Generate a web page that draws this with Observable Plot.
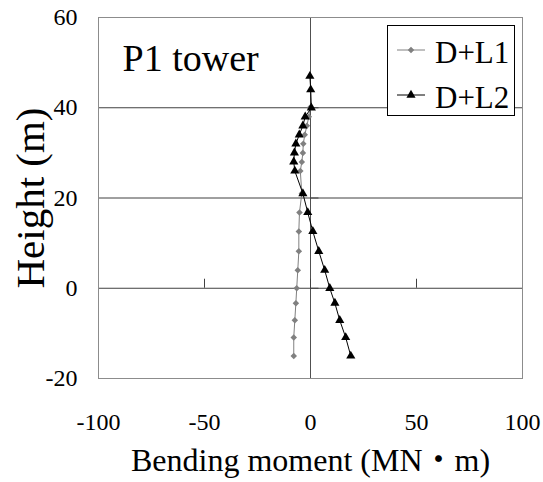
<!DOCTYPE html>
<html>
<head>
<meta charset="utf-8">
<script src="https://cdn.jsdelivr.net/npm/d3@7"></script>
<script src="https://cdn.jsdelivr.net/npm/@observablehq/plot@0.6"></script>
<style>
  html, body { margin: 0; padding: 0; background: #fff; }
  #wrap { position: relative; width: 543px; height: 482px; }
  #legend { position: absolute; left: 387px; top: 25px; width: 128px; height: 91px;
            border: 1px solid #000; background: #fff; box-sizing: border-box; }
</style>
</head>
<body>
<div id="wrap"><div id="chart"></div><div id="legend"></div></div>
<script>
// Heights (m) of the points
const heightsL1 = [40, 38, 36, 34, 32, 30, 28, 26, 21, 16.8, 12.6, 8.2, 4, 0, -3.3, -7.1, -10.9, -15];
const momentL1  = [-0.3, -0.8, -1.7, -2.7, -3.4, -3.6, -4.1, -4.8, -4.1, -5.2, -5.5, -5.5, -6.0, -6.5, -6.9, -7.4, -7.9, -7.9];
const heightsL2 = [47, 44, 40, 38, 36, 34, 32, 30, 28, 26, 21, 16.8, 12.6, 8.2, 4, 0, -3.3, -7.1, -10.9, -15];
const momentL2  = [-0.3, 0.1, 0.4, -2.5, -3.6, -5.3, -6.9, -7.6, -7.9, -7.4, -3.6, -1.3, 1.1, 3.9, 6.7, 9.1, 11.5, 13.8, 16.6, 19.0];
const xTicks = [-100, -50, 0, 50, 100];
const yTicks = [-20, 0, 20, 40, 60];
const gridY = [0, 20, 40];
const seriesNames = ["D+L1", "D+L2"];
const annotation = "P1 tower";
const xTitle = "Bending moment (MN・m)";
const yTitle = "Height (m)";

const L1 = heightsL1.map((h, i) => ({h, m: momentL1[i]}));
const L2 = heightsL2.map((h, i) => ({h, m: momentL2[i]}));

const diamond = {
  draw(ctx, size) {
    const d = Math.sqrt(size / 2);
    ctx.moveTo(0, -d); ctx.lineTo(d, 0); ctx.lineTo(0, d); ctx.lineTo(-d, 0); ctx.closePath();
  }
};

const serif = "'Liberation Serif', serif, 'Noto Sans CJK JP'";

const chart = Plot.plot({
  width: 543,
  height: 482,
  marginLeft: 98,
  marginRight: 21,
  marginTop: 17,
  marginBottom: 104,
  style: {fontFamily: serif, background: "#fff", color: "#000"},
  x: {domain: [-100, 100]},
  y: {domain: [-20, 60]},
  marks: [
    Plot.ruleY(gridY, {stroke: "#404040", strokeWidth: 1}),
    Plot.ruleX([0], {stroke: "#505050", strokeWidth: 1}),
    Plot.ruleX(xTicks, {y1: 0, y2: 2, stroke: "#404040"}),
    Plot.ruleY(yTicks, {x1: 0, x2: 4, stroke: "#404040"}),
    Plot.frame({stroke: "#8c8c8c"}),
    Plot.axisX({ticks: xTicks, tickSize: 0, tickPadding: 34, fontSize: 24, fontFamily: serif, label: null, tickFormat: d => String(d)}),
    Plot.axisY({ticks: yTicks, tickSize: 0, tickPadding: 21, fontSize: 24, fontFamily: serif, label: null, tickFormat: d => String(d)}),
    Plot.line(L1, {x: "m", y: "h", stroke: "#808080", strokeWidth: 1}),
    Plot.dot(L1, {x: "m", y: "h", symbol: diamond, r: 2.6, fill: "#808080", stroke: "none"}),
    Plot.line(L2, {x: "m", y: "h", stroke: "#000", strokeWidth: 1}),
    Plot.dot(L2, {x: "m", y: "h", symbol: "triangle", r: 3.4, fill: "#000", stroke: "none"}),
    Plot.text([annotation], {frameAnchor: "top-left", dx: 24, dy: 53, lineAnchor: "bottom", textAnchor: "start", fontSize: 38, fontFamily: serif, fill: "#000"}),
    Plot.text([xTitle], {frameAnchor: "bottom", dy: 92, lineAnchor: "bottom", textAnchor: "middle", fontSize: 32, fontFamily: serif, fill: "#000"}),
    Plot.text([yTitle], {frameAnchor: "left", dx: -68, rotate: -90, lineAnchor: "middle", textAnchor: "middle", fontSize: 41, fontFamily: serif, fill: "#000"})
  ]
});
document.getElementById("chart").appendChild(chart);

// legend
const lg = d3.select("#legend").append("svg").attr("width", 128).attr("height", 91)
  .style("position", "absolute").style("left", "-1px").style("top", "-1px")
  .attr("font-family", serif);
const entries = [
  {name: seriesNames[0], color: "#808080", sym: diamond, size: Math.PI * 2.6 * 2.6, y: 25},
  {name: seriesNames[1], color: "#000", sym: d3.symbolTriangle, size: Math.PI * 3.4 * 3.4, y: 70}
];
for (const e of entries) {
  lg.append("line").attr("x1", 10).attr("x2", 38).attr("y1", e.y).attr("y2", e.y).attr("stroke", e.color);
  lg.append("path").attr("d", d3.symbol(e.sym, e.size)()).attr("transform", `translate(24,${e.y})`).attr("fill", e.color);
  lg.append("text").attr("x", 48).attr("y", e.y + 13).attr("font-size", 31).text(e.name);
}
</script>
</body>
</html>
